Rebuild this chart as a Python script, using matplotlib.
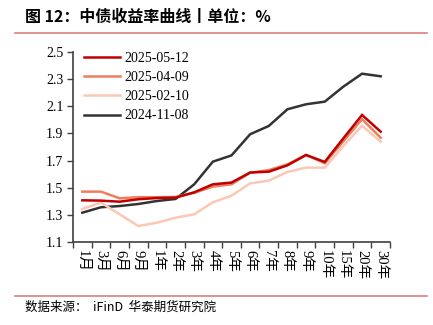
import matplotlib.pyplot as plt
from matplotlib.lines import Line2D

# tenor categories
tenors = ["1月", "3月", "6月", "9月", "1年", "2年", "3年", "4年", "5年", "6年",
          "7年", "8年", "9年", "10年", "15年", "20年", "30年"]

# yield curves (%)
curve_20250512 = [1.407, 1.405, 1.397, 1.415, 1.424, 1.427, 1.466, 1.525, 1.538, 1.612,
                  1.618, 1.665, 1.741, 1.690, 1.864, 2.036, 1.913]
curve_20250409 = [1.471, 1.471, 1.422, 1.430, 1.430, 1.432, 1.462, 1.508, 1.525, 1.610,
                  1.630, 1.672, 1.742, 1.680, 1.842, 2.005, 1.868]
curve_20250210 = [1.343, 1.390, 1.304, 1.218, 1.242, 1.279, 1.304, 1.393, 1.441, 1.532,
                  1.552, 1.616, 1.648, 1.648, 1.807, 1.957, 1.839]
curve_20241108 = [1.316, 1.356, 1.365, 1.380, 1.402, 1.417, 1.525, 1.692, 1.738, 1.894,
                  1.955, 2.078, 2.115, 2.134, 2.245, 2.340, 2.321]

series = [
    ("2025-05-12", curve_20250512, "#C00000"),
    ("2025-04-09", curve_20250409, "#EE7F5E"),
    ("2025-02-10", curve_20250210, "#FAC8B4"),
    ("2024-11-08", curve_20241108, "#333333"),
]

serif = ["Liberation Serif", "Noto Sans CJK SC"]
plt.rcParams["font.family"] = serif

fig = plt.figure(figsize=(4.33, 3.25), dpi=100)
ax = fig.add_axes([73 / 433, 1 - 242 / 325, (390 - 73) / 433, (242 - 52) / 325])

x = range(len(tenors))
# draw back to front so the newest curve sits on top
for name, vals, col in reversed(series):
    ax.plot(x, vals, color=col, lw=1.8, solid_joinstyle="miter")

ax.set_ylim(1.1, 2.5)
ax.set_yticks([1.1, 1.3, 1.5, 1.7, 1.9, 2.1, 2.3, 2.5])
ax.set_yticklabels(["1.1", "1.3", "1.5", "1.7", "1.9", "2.1", "2.3", "2.5"])
ax.set_xlim(-0.5, len(tenors) - 0.5)
ax.set_xticks([i - 0.5 for i in range(len(tenors) + 1)])
ax.set_xticklabels([])
ax.set_xticks(list(x), minor=True)
ax.set_xticklabels(tenors, minor=True, rotation=270, fontsize=10.5,
                   family=serif, va="top", ha="center")
ax.tick_params(axis="x", which="minor", length=0, pad=6)
ax.tick_params(axis="x", which="major", length=4, width=1, color="#404040", direction="out")
ax.tick_params(axis="y", length=4, width=1, color="#404040", labelsize=10, pad=3)

for s in ["top", "right"]:
    ax.spines[s].set_visible(False)
for s in ["left", "bottom"]:
    ax.spines[s].set_color("#404040")
    ax.spines[s].set_linewidth(1.2)

handles = [Line2D([], [], color=c, lw=1.8) for _, _, c in series]
ax.legend(handles, [n for n, _, _ in series], loc="upper left", frameon=False,
          fontsize=10, handlelength=2.6, handletextpad=0.3, labelspacing=0.45,
          bbox_to_anchor=(0.0, 1.06), borderaxespad=0.4)

# header / footer
fig.text(25 / 433, 1 - 17 / 325, "图 12：中债收益率曲线丨单位：%", fontsize=11.5,
         fontweight="bold", family=["Noto Sans CJK SC", "DejaVu Sans"], va="center", ha="left")
fig.add_artist(Line2D([15 / 433, 427 / 433], [1 - 33 / 325, 1 - 33 / 325],
                      color="#D98080", lw=1.2))
fig.add_artist(Line2D([15 / 433, 427 / 433], [1 - 296 / 325, 1 - 296 / 325],
                      color="#D98080", lw=1.2))
fig.text(25 / 433, 1 - 307 / 325, "数据来源：  iFinD  华泰期货研究院", fontsize=9,
         family=["Noto Sans CJK SC", "DejaVu Sans"], va="center", ha="left")

fig.savefig("out.png", dpi=100)
